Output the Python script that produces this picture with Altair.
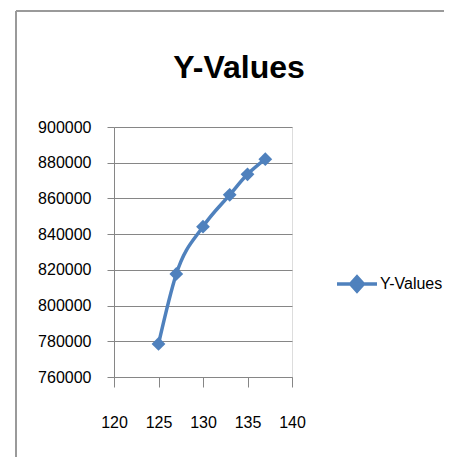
import altair as alt
import pandas as pd

x_vals = [125, 127, 130, 133, 135, 137]
y_vals = [778500, 817700, 844200, 862000, 873500, 882000]
series = ["Y-Values"] * len(x_vals)
x_ticks = [120, 125, 130, 135, 140]
y_ticks = [760000, 780000, 800000, 820000, 840000, 860000, 880000, 900000]
title_text = ["Y-Values"]

df = pd.DataFrame({"x": x_vals, "y": y_vals, "series": series})
tdf = pd.DataFrame({"t": title_text})

FONT = "Liberation Sans, Arial, sans-serif"
BLUE = "#4F81BD"

xenc = alt.X("x:Q", scale=alt.Scale(domain=[120, 140], nice=False, zero=False),
             axis=alt.Axis(values=x_ticks, title=None, grid=False, tickSize=10,
                           labelPadding=27, labelFontSize=16, labelFont=FONT,
                           labelColor="#000000", domainColor="#868686",
                           tickColor="#868686", format="d", labelOverlap=False,
                           labelFlush=False))
yenc = alt.Y("y:Q", scale=alt.Scale(domain=[760000, 900000], nice=False, zero=False),
             axis=alt.Axis(values=y_ticks, title=None, grid=True, gridColor="#868686",
                           tickSize=7, labelPadding=16, labelFontSize=16, labelFont=FONT,
                           labelColor="#000000", domainColor="#868686",
                           tickColor="#868686", format="d", labelOverlap=False,
                           labelFlush=False))

color = alt.Color("series:N", scale=alt.Scale(range=[BLUE]),
                  legend=alt.Legend(title=None, orient="none", legendX=221, legendY=135,
                                    symbolType="M-1,0H1M0,-0.36L0.32,0L0,0.36L-0.32,0Z",
                                    symbolSize=1600, symbolStrokeWidth=3.5,
                                    symbolFillColor=BLUE, symbolStrokeColor=BLUE,
                                    labelFont=FONT, labelFontSize=16, labelColor="#000000",
                                    labelOffset=1, padding=0))

line = alt.Chart(df).mark_line(strokeWidth=3.5, interpolate="monotone").encode(
    x=xenc, y=yenc, color=color)
pts = alt.Chart(df).mark_point(shape="diamond", filled=True, size=190, opacity=1).encode(
    x=xenc, y=yenc, color=color)

title = alt.Chart(tdf).mark_text(font=FONT, fontSize=32, fontWeight="bold", color="#000000",
                                 align="center", baseline="alphabetic").encode(
    text="t:N", x=alt.value(125), y=alt.value(-49))

frame_top = alt.Chart(tdf).mark_rule(color="#9a9a9a", strokeWidth=2).encode(
    x=alt.value(-98), x2=alt.value(340), y=alt.value(-116))
frame_left = alt.Chart(tdf).mark_rule(color="#9a9a9a", strokeWidth=2).encode(
    x=alt.value(-98), y=alt.value(-116), y2=alt.value(340))

chart = alt.layer(frame_top, frame_left, title, line, pts).properties(
    width=178, height=250,
    autosize=alt.AutoSizeParams(type="none"),
    padding={"left": 106, "top": 119, "right": 152, "bottom": 80},
).configure_view(stroke=None).configure(background="#ffffff")

chart.save("out.html", embed_options={"renderer": "svg", "actions": False})
